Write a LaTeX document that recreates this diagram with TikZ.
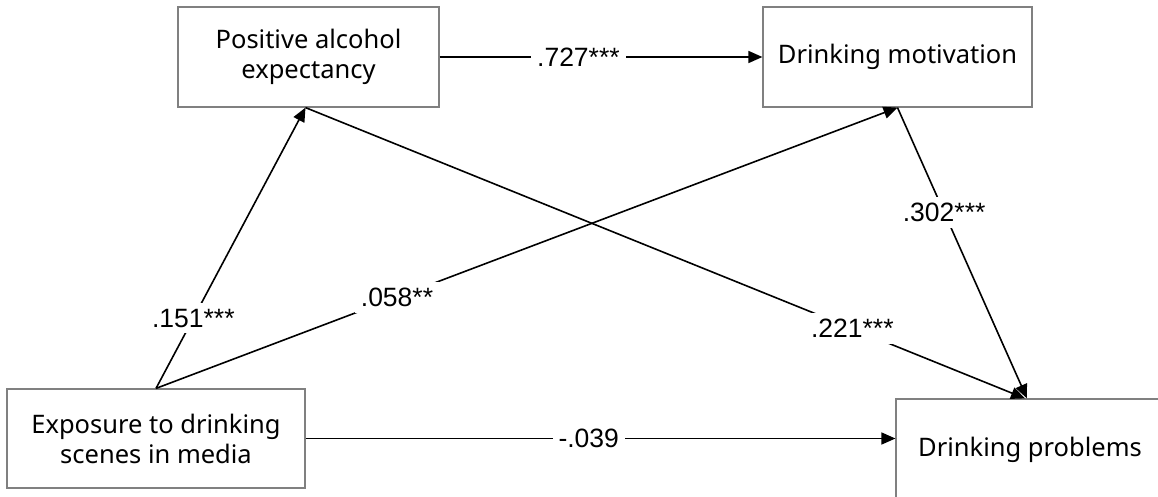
\documentclass[tikz,border=0pt]{standalone}
\usepackage{fontspec}
\setmainfont{Liberation Sans}
\newfontfamily\boxfont{Noto Sans}
\usetikzlibrary{arrows.meta}
\tikzset{
  var/.style={draw=black!50, line width=1.2pt, rectangle, align=center,
    font=\boxfont\fontsize{25.5}{30}\selectfont, inner sep=0pt},
  path/.style={line width=1.6pt, -{Triangle[length=14pt,width=12pt]}},
  coef/.style={fill=white, inner sep=6pt, font=\fontsize{26.5}{30}\selectfont}
}
\begin{document}
\begin{tikzpicture}[x=1pt,y=1pt]
  \clip (0,0) rectangle (1158,496);
  \fill[white] (0,0) rectangle (1158,496);

  % variables
  \node[var, minimum width=261pt, minimum height=100pt] (pae) at (308.5,439) {Positive alcohol\\expectancy};
  \node[var, minimum width=269pt, minimum height=100pt] (dm) at (897.5,439) {Drinking motivation};
  \node[var, minimum width=298pt, minimum height=99pt] (ex) at (156,57.5) {Exposure to drinking\\scenes in media};
  \node[var, minimum width=268pt, minimum height=102pt] (dp) at (1030,46) {Drinking problems};

  % paths with coefficients
  \draw[path] (pae.east) -- node[coef, pos=0.43] {.727***} (dm.west);
  \draw[path] (ex.east) -- node[coef, pos=0.48] {-.039} (ex.east -| dp.west);
  \draw[path] (ex.north) -- node[coef, pos=0.25] {.151***} ([xshift=-3pt]pae.south);
  \draw[path] (ex.north) -- node[coef, pos=0.325] {.058**} (dm.south);
  \draw[path] ([xshift=-3pt]pae.south) -- node[coef, pos=0.76] {.221***} ([xshift=-5pt]dp.north);
  \draw[path] (dm.south) -- node[coef, pos=0.36] {.302***} ([xshift=-3pt]dp.north);
\end{tikzpicture}
\end{document}
